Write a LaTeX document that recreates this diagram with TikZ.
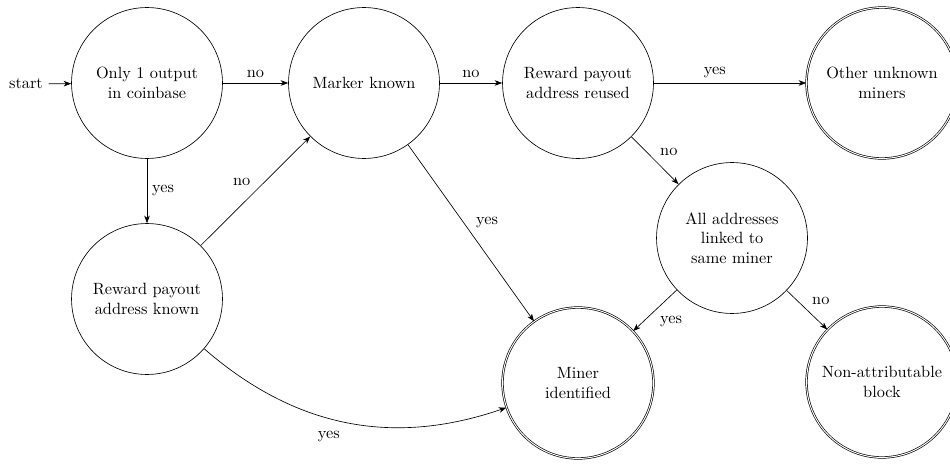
\documentclass[tikz,border=0pt]{standalone}
\usetikzlibrary{arrows.meta}
\begin{document}
\begin{tikzpicture}[x=0.6135pt,y=-0.6135pt,
  state/.style={circle,draw,minimum size=92.6pt,inner sep=0pt,align=center},
  accept/.style={state,double,double distance=0.6pt},
  flow/.style={->,>={Stealth[length=4.6pt,width=3.4pt,inset=1.3pt]}},
  lbl/.style={inner sep=3pt}]
\useasboundingbox (0,0) rectangle (950,466);

% states
\node[state]  (one)    at (147,83)  {Only 1 output\\in coinbase};
\node[state]  (marker) at (364,83)  {Marker known};
\node[state]  (reused) at (578,83)  {Reward payout\\address reused};
\node[accept] (other)  at (882,83)  {Other unknown\\miners};
\node[state]  (known)  at (147,299) {Reward payout\\address known};
\node[state]  (linked) at (732,238) {All addresses\\linked to\\same miner};
\node[accept] (miner)  at (578,383) {Miner\\identified};
\node[accept] (nonatt) at (882,382) {Non-attributable\\block};

% entry
\node (start) at (26,84) {start};
\draw[flow] (start) -- (one);

% transitions
\draw[flow] (one) -- node[lbl,above] {no} (marker);
\draw[flow] (one) -- node[lbl,right] {yes} (known);
\draw[flow] (known) -- node[lbl,above left,pos=0.5] {no} (marker);
\draw[flow] (marker) -- node[lbl,above right,pos=0.5] {yes} (miner);
\draw[flow] (marker) -- node[lbl,above] {no} (reused);
\draw[flow] (reused) -- node[lbl,above,pos=0.4] {yes} (other);
\draw[flow] (reused) -- node[lbl,above right] {no} (linked);
\draw[flow] (linked) -- node[lbl,below right] {yes} (miner);
\draw[flow] (linked) -- node[lbl,above right] {no} (nonatt);
\draw[flow] (known) to[bend right=30] node[lbl,below,pos=0.44,yshift=-4.5pt] {yes} (miner);
\end{tikzpicture}
\end{document}
